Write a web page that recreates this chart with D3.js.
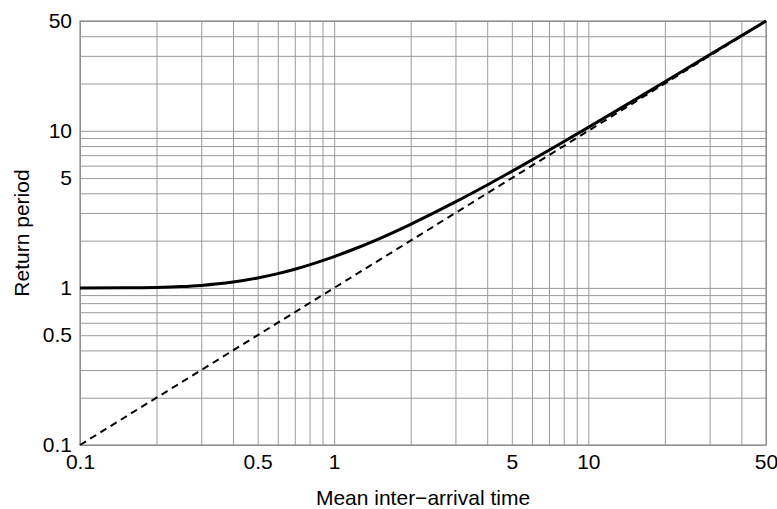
<!DOCTYPE html>
<html>
<head>
<meta charset="utf-8">
<script src="https://cdn.jsdelivr.net/npm/d3@7"></script>
<style>
  body { margin: 0; background: #fff; }
  text { font-family: "Liberation Sans", Arial, sans-serif; fill: #000; }
  .grid line { stroke: #9a9a9a; stroke-width: 1; }
  .grid path { display: none; }
  .lab path, .lab line { display: none; }
</style>
</head>
<body>
<script>
// mean inter-arrival time vs return period
var meanTime = [0.1, 0.15, 0.2, 0.25, 0.3, 0.4, 0.5, 0.6, 0.7, 0.8, 0.9, 1, 1.2, 1.5, 2, 2.5, 3, 4, 5, 7, 10, 15, 20, 30, 50]
var returnPeriod = [1.0, 1.001, 1.007, 1.019, 1.037, 1.089, 1.157, 1.233, 1.315, 1.402, 1.491, 1.582, 1.769, 2.055, 2.541, 3.033, 3.527, 4.521, 5.517, 7.513, 10.51, 15.51, 20.5, 30.5, 50.5]

var refLine = [0.1, 50]

var gridValues = [0.1, 0.2, 0.3, 0.4, 0.5, 0.6, 0.7, 0.8, 0.9, 1, 2, 3, 4, 5, 6, 7, 8, 9, 10, 20, 30, 40, 50]
var tickLabels = [0.1, 0.5, 1, 5, 10, 50]

var width = 777
var height = 509
var padL = 80, padR = 766, padT = 21, padB = 445

var svg = d3.select("body")
            .append("svg")
            .attr("width", width)
            .attr("height", height)

var xScale = d3.scaleLog()
               .domain([0.1, 50])
               .range([padL, padR])

var yScale = d3.scaleLog()
               .domain([0.1, 50])
               .range([padB, padT])

// grid
svg.append("g")
    .attr("class", "grid")
    .attr("transform", "translate(0," + padB + ")")
    .call(d3.axisBottom(xScale).tickValues(gridValues).tickSize(-(padB - padT)).tickFormat(""))

svg.append("g")
    .attr("class", "grid")
    .attr("transform", "translate(" + padL + ",0)")
    .call(d3.axisLeft(yScale).tickValues(gridValues).tickSize(-(padR - padL)).tickFormat(""))

svg.append("rect")
    .attr("x", padL)
    .attr("y", padT)
    .attr("width", padR - padL)
    .attr("height", padB - padT)
    .attr("fill", "none")
    .attr("stroke", "#8c8c8c")
    .attr("stroke-width", 1.2)

// tick labels
var fmt = function(d){ return String(d) }

svg.append("g")
    .attr("class", "lab")
    .attr("transform", "translate(0," + padB + ")")
    .call(d3.axisBottom(xScale).tickValues(tickLabels).tickSize(0).tickPadding(9).tickFormat(fmt))
    .selectAll("text")
    .style("font-size", "21px")
    .style("font-family", "'Liberation Sans', Arial, sans-serif")
    .attr("fill", "#000")

svg.append("g")
    .attr("class", "lab")
    .attr("transform", "translate(" + padL + ",0)")
    .call(d3.axisLeft(yScale).tickValues(tickLabels).tickSize(0).tickPadding(8).tickFormat(fmt))
    .selectAll("text")
    .style("font-size", "21px")
    .style("font-family", "'Liberation Sans', Arial, sans-serif")
    .attr("fill", "#000")

// lines
var refData = refLine.map(function(d){ return [d, d] })
svg.append("path")
    .datum(refData)
    .attr("fill", "none")
    .attr("stroke", "#000")
    .attr("stroke-width", 2)
    .attr("stroke-dasharray", "7,5")
    .attr("d", d3.line()
        .x(function(d){ return xScale(d[0]) })
        .y(function(d){ return yScale(d[1]) }))

var curveData = meanTime.map(function(d, i){ return [d, returnPeriod[i]] })
svg.append("path")
    .datum(curveData)
    .attr("fill", "none")
    .attr("stroke", "#000")
    .attr("stroke-width", 3)
    .attr("d", d3.line()
        .curve(d3.curveMonotoneX)
        .x(function(d){ return xScale(d[0]) })
        .y(function(d){ return yScale(Math.min(d[1], 50)) }))

// axis titles
svg.append("text")
    .attr("x", (padL + padR) / 2)
    .attr("y", 505)
    .attr("text-anchor", "middle")
    .style("font-size", "21px")
    .text("Mean inter\u2212arrival time")

svg.append("text")
    .attr("transform", "translate(29," + ((padT + padB) / 2) + ") rotate(-90)")
    .attr("text-anchor", "middle")
    .style("font-size", "21px")
    .text("Return period")
</script>
</body>
</html>
